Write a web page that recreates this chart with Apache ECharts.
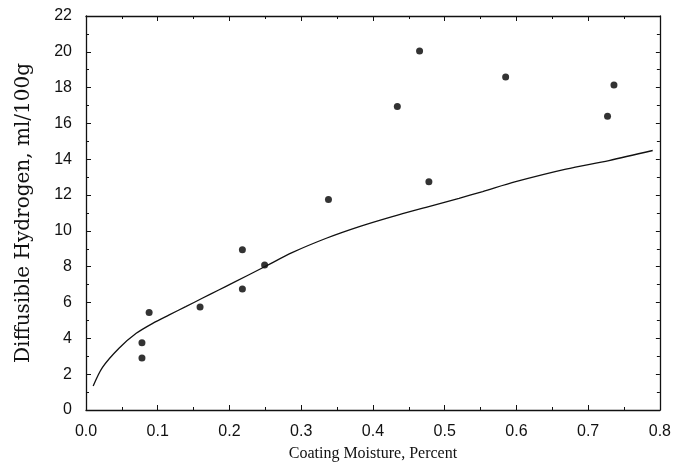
<!DOCTYPE html>
<html>
<head>
<meta charset="utf-8">
<script src="https://cdn.jsdelivr.net/npm/echarts@6/dist/echarts.min.js"></script>
<style>html,body{margin:0;padding:0;background:#fff;}#c{width:674px;height:470px;}</style>
</head>
<body>
<div id="c"></div>
<script>
// Measured data points
var pointX = [0.078, 0.078, 0.088, 0.159, 0.218, 0.218, 0.249, 0.338, 0.434, 0.465, 0.478, 0.585, 0.727, 0.736];
var pointY = [3.75, 2.9, 5.45, 5.75, 8.95, 6.75, 8.1, 11.75, 16.95, 20.05, 12.75, 18.6, 16.4, 18.15];
// Fitted curve
var curveX = [0.010, 0.023, 0.046, 0.070, 0.093, 0.116, 0.139, 0.162, 0.185, 0.204, 0.249, 0.288, 0.335, 0.381, 0.427, 0.474, 0.520, 0.553, 0.599, 0.669, 0.729, 0.790];
var curveY = [1.34, 2.38, 3.45, 4.28, 4.84, 5.31, 5.77, 6.24, 6.70, 7.08, 8.00, 8.80, 9.59, 10.24, 10.80, 11.32, 11.82, 12.20, 12.75, 13.45, 13.93, 14.49];
var xTitle = 'Coating Moisture, Percent';
var yTitle = 'Diffusible Hydrogen, ml/100g';

var pts = pointX.map(function (x, i) { return [x, pointY[i]]; });
var curve = curveX.map(function (x, i) { return [x, curveY[i]]; });

var ink = '#111';
var chart = echarts.init(document.getElementById('c'), null, {renderer: 'canvas'});
chart.setOption({
  backgroundColor: '#fff',
  animation: false,
  grid: {left: 86, right: 13, top: 16, bottom: 60},
  xAxis: [{
    type: 'value', min: 0, max: 0.8, interval: 0.1,
    name: xTitle, nameLocation: 'middle', nameGap: 36,
    nameTextStyle: {fontFamily: 'Liberation Serif', fontSize: 16, color: ink},
    axisLine: {onZero: false, lineStyle: {color: ink, width: 1.3}},
    axisTick: {inside: true, length: 5, lineStyle: {color: ink}},
    minorTick: {show: true, splitNumber: 2, length: 3, lineStyle: {color: ink}},
    axisLabel: {margin: 14, fontFamily: 'Liberation Sans', fontSize: 16, color: ink,
      formatter: function (v) { return v.toFixed(1); }},
    splitLine: {show: false}
  }, {
    type: 'value', min: 0, max: 0.8, interval: 0.1, position: 'top',
    axisLine: {show: true, onZero: false, lineStyle: {color: ink, width: 1.3}},
    axisTick: {inside: true, length: 5, lineStyle: {color: ink}},
    minorTick: {show: true, splitNumber: 2, length: 3, lineStyle: {color: ink}},
    axisLabel: {show: false}, splitLine: {show: false}
  }],
  yAxis: [{
    type: 'value', min: 0, max: 22, interval: 2,
    name: yTitle, nameLocation: 'middle', nameGap: 52,
    nameTextStyle: {fontFamily: 'DejaVu Serif', fontSize: 20, color: ink},
    axisLine: {show: true, onZero: false, lineStyle: {color: ink, width: 1.3}},
    axisTick: {inside: true, length: 5, lineStyle: {color: ink}},
    minorTick: {show: true, splitNumber: 2, length: 3, lineStyle: {color: ink}},
    axisLabel: {margin: 14, fontFamily: 'Liberation Sans', fontSize: 16, color: ink},
    splitLine: {show: false}
  }, {
    type: 'value', min: 0, max: 22, interval: 2, position: 'right',
    axisLine: {show: true, onZero: false, lineStyle: {color: ink, width: 1.3}},
    axisTick: {inside: true, length: 4, lineStyle: {color: ink}},
    minorTick: {show: true, splitNumber: 2, length: 3, lineStyle: {color: ink}},
    axisLabel: {show: false}, splitLine: {show: false}
  }],
  series: [{
    type: 'line', data: curve, showSymbol: false, smooth: 0.3,
    lineStyle: {color: ink, width: 1.3}
  }, {
    type: 'scatter', data: pts, symbol: 'circle', symbolSize: 7,
    itemStyle: {color: '#000'}
  }]
});
</script>
</body>
</html>
